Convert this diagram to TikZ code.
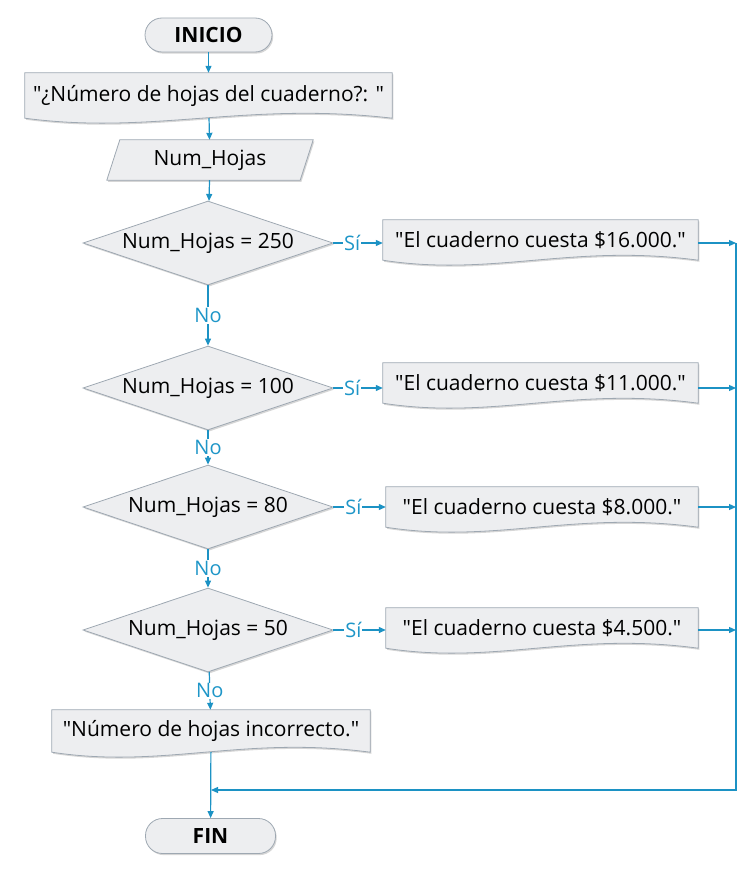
\documentclass[tikz,border=0pt]{standalone}
\usepackage{fontspec}
\setmainfont[Ligatures=TeXOff]{Open Sans}
\usetikzlibrary{arrows.meta,shapes.geometric,backgrounds,calc,shadows}
\definecolor{boxfill}{RGB}{237,238,240}
\definecolor{boxline}{RGB}{158,168,178}
\definecolor{flow}{RGB}{28,146,196}
\definecolor{lbl}{RGB}{30,150,200}
\tikzset{
  shadowed/.style={drop shadow={shadow xshift=1.2pt,shadow yshift=-1.6pt,opacity=0.16,fill=black}},
  base/.style={font=\fontsize{21}{25}\selectfont,text=black,inner sep=0pt},
  term/.style={base,font=\fontsize{21}{25}\selectfont\bfseries,draw=boxline,fill=boxfill,rounded corners=17pt,
     minimum width=127pt,minimum height=34pt,line width=0.8pt,shadowed},
  holder/.style={base,minimum height=40pt},
  outline/.style={draw=boxline,fill=boxfill,line width=0.8pt,shadowed},
  cond/.style={base,diamond,shape aspect=3,draw=boxline,fill=boxfill,minimum width=250pt,
     minimum height=84pt,line width=0.8pt,shadowed},
  flowline/.style={draw=flow,line width=1.2pt},
  arr/.style={flowline,-{Triangle[length=7pt,width=6pt]}},
  lab/.style={font=\fontsize{20}{24}\selectfont,text=lbl,fill=white,inner sep=1pt}
}
\newcommand\docpath[1]{%
  \path[outline] (#1.north west) -- (#1.north east) -- (#1.south east)
    .. controls ($(#1.south east)!0.4!(#1.south west)+(0,-17)$) and
                ($(#1.south east)!0.65!(#1.south west)+(0,17)$) .. (#1.south west) -- cycle;}
\begin{document}
\begin{tikzpicture}[x=1pt,y=-1pt]
\useasboundingbox (0,0) rectangle (742,872);
% nodes
\node[term] (inicio) at (208.5,35) {INICIO};
\node[holder,minimum width=367pt,minimum height=45pt] (q) at (208.5,95.5) {"¿Número de hojas del cuaderno?: "};
\node[holder,minimum width=193pt] (inp) at (210,160) {Num\_Hojas};
\node[cond] (d1) at (208,243) {Num\_Hojas = 250};
\node[cond] (d2) at (208,388) {Num\_Hojas = 100};
\node[cond] (d3) at (208,507) {Num\_Hojas = 80};
\node[cond] (d4) at (208,630) {Num\_Hojas = 50};
\node[holder,minimum width=315pt] (o1) at (540.5,240) {"El cuaderno cuesta \$16.000."};
\node[holder,minimum width=315pt] (o2) at (540.5,383) {"El cuaderno cuesta \$11.000."};
\node[holder,minimum width=312pt] (o3) at (542,507) {"El cuaderno cuesta \$8.000."};
\node[holder,minimum width=312pt] (o4) at (542,628) {"El cuaderno cuesta \$4.500."};
\node[holder,minimum width=318pt,minimum height=42pt] (err) at (211,731) {"Número de hojas incorrecto."};
\node[term,minimum width=130pt,minimum height=35pt] (fin) at (210.5,836) {FIN};
\coordinate (rx) at (736,0);
\coordinate (bot) at (736,790);
\coordinate (join) at (211,790);
% shapes drawn behind text
\begin{scope}[on background layer]
  \docpath{q}
  \docpath{o1}
  \docpath{o2}
  \docpath{o3}
  \docpath{o4}
  \docpath{err}
  \path[outline] ($(inp.north west)+(6.5,0)$) -- ($(inp.north east)+(6.5,0)$)
     -- ($(inp.south east)+(-6.5,0)$) -- ($(inp.south west)+(-6.5,0)$) -- cycle;
\end{scope}
% connectors
\draw[arr] (inicio) -- (q);
\draw[arr] (q) -- (inp);
\draw[arr] (inp) -- (d1);
\draw[arr] (d1) -- node[lab]{No} (d2);
\draw[arr] (d2) -- node[lab]{No} (d3);
\draw[arr] (d3) -- node[lab]{No} (d4);
\draw[arr] (d4) -- node[lab]{No} (err);
\foreach \d/\o in {d1/o1,d2/o2,d3/o3,d4/o4}{
  \draw[arr] (\d.east) -- node[lab,pos=0.38]{Sí} (\d.east -| \o.west);
  \draw[arr] (\o.east |- \d.east) -- (\d.east -| rx);
}
\draw[arr] (d1.east -| rx) -- (bot) -- (join);
\draw[arr] (err) -- (fin);
\end{tikzpicture}
\end{document}
